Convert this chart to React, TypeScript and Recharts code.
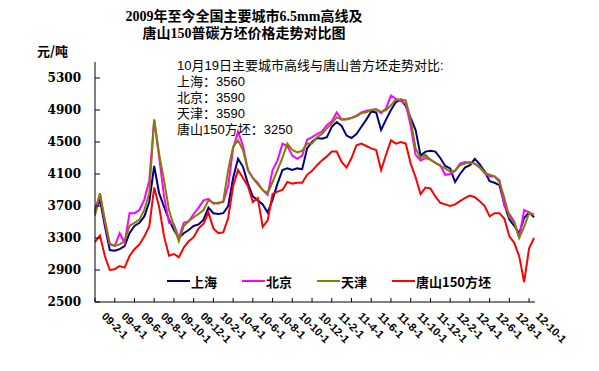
import React from "react";
import { LineChart, Line, XAxis, YAxis } from "recharts";

// months since 2009-02-01, half-month steps
const months: number[] = Array.from({ length: 90 }, (_, i) => i * 0.5);

const xTickLabels = [
  "09-2-1", "09-4-1", "09-6-1", "09-8-1", "09-10-1", "09-12-1",
  "10-2-1", "10-4-1", "10-6-1", "10-8-1", "10-10-1", "10-12-1",
  "11-2-1", "11-4-1", "11-6-1", "11-8-1", "11-10-1", "11-12-1",
  "12-2-1", "12-4-1", "12-6-1", "12-8-1", "12-10-1",
];
const yTicks = [2500, 2900, 3300, 3700, 4100, 4500, 4900, 5300];

const shanghai = [
  3620, 3780, 3450, 3150, 3140, 3160, 3200, 3360, 3450, 3490,
  3570, 3750, 4200, 3860, 3690, 3530, 3400, 3300, 3360, 3400,
  3450, 3470, 3530, 3680, 3610, 3600, 3610, 3700, 4050, 4290,
  4190, 3980, 3820, 3770, 3720, 3620, 3780, 3980, 4150, 4170,
  4150, 4170, 4160, 4420, 4500, 4550, 4540, 4560, 4690, 4750,
  4700, 4580, 4550, 4600, 4690, 4780, 4880, 4870, 4650, 4780,
  4900, 5000, 5030, 4950, 4800, 4650, 4330, 4380, 4390, 4380,
  4300, 4200, 4170, 4000, 4100, 4180, 4210, 4290, 4220, 4130,
  4010, 3990, 3960, 3720, 3530, 3450, 3360, 3550, 3620, 3560,
];
const beijing = [
  3650, 3850, 3500, 3220, 3200, 3360, 3240, 3610, 3610, 3650,
  3780, 4020, 4780, 4310, 3820, 3490, 3470, 3300, 3490, 3510,
  3600, 3680, 3770, 3790, 3730, 3740, 3750, 3950, 4420, 4630,
  4450, 4150, 4050, 3990, 3900, 3840, 4150, 4270, 4480, 4450,
  4330, 4290, 4330, 4530, 4560, 4600, 4630, 4710, 4760, 4870,
  4780, 4780, 4800, 4830, 4870, 4890, 4900, 4910, 4860, 4920,
  5080, 5040, 5010, 4980, 4700, 4340, 4270, 4300, 4280, 4240,
  4210, 4090, 4100, 4140, 4230, 4250, 4240, 4230, 4180, 4110,
  4070, 4070, 4020, 3700, 3600, 3500, 3300, 3650, 3620, 3590,
];
const tianjin = [
  3580, 3860, 3530, 3230, 3200, 3220, 3260, 3450, 3490, 3530,
  3650, 3860, 4780, 4350, 4020, 3650, 3445, 3260, 3450, 3510,
  3560, 3600, 3650, 3770, 3740, 3730, 3760, 4150, 4440, 4520,
  4400, 4150, 4050, 3970, 3900, 3860, 4000, 4150, 4300, 4480,
  4400, 4370, 4390, 4480, 4480, 4560, 4600, 4670, 4730, 4810,
  4780, 4790, 4800, 4820, 4860, 4870, 4900, 4910, 4880, 4900,
  4960, 5030, 5030, 5020, 4780, 4420, 4300, 4340, 4280, 4240,
  4200, 4170, 4130, 4140, 4210, 4230, 4250, 4230, 4190, 4120,
  4090, 4070, 4000, 3800, 3560, 3490, 3300, 3440, 3610, 3590,
];
const tangshan = [
  3250, 3330, 3075, 2900, 2910, 2950, 2930, 3075, 3160, 3220,
  3320, 3445, 3930, 3690, 3320, 3080, 3100, 3060, 3180, 3260,
  3310, 3420, 3480, 3620, 3420, 3360, 3370, 3550, 3950, 4150,
  4050, 3950, 3750, 3800, 3440, 3520, 3850, 3880, 3900, 4000,
  3980, 3990, 3990, 4090, 4140, 4210, 4270, 4320, 4380, 4380,
  4250, 4180, 4300, 4460, 4480, 4450, 4420, 4400, 4150, 4340,
  4520, 4480, 4500, 4480, 4230, 4060, 3850, 3930, 3920, 3820,
  3740, 3720, 3700, 3720, 3760, 3800, 3830, 3810, 3760, 3700,
  3570, 3610, 3610, 3540, 3320, 3240, 3070, 2750, 3170, 3300,
];

const series = [
  { key: "sh", name: "上海", color: "#000080", values: shanghai },
  { key: "bj", name: "北京", color: "#FF00FF", values: beijing },
  { key: "tj", name: "天津", color: "#808000", values: tianjin },
  { key: "ts", name: "唐山150方坯", color: "#FF0000", values: tangshan },
];

const noteLines = [
  "10月19日主要城市高线与唐山普方坯走势对比:",
  "上海：3560",
  "北京：3590",
  "天津：3590",
  "唐山150方坯：3250",
];

const data = months.map((m, i) => {
  const row: { [k: string]: number } = { m };
  series.forEach((s) => (row[s.key] = s.values[i]));
  return row;
});

const xTicks = xTickLabels.map((_, i) => i * 2);

const YTick = (props: any) => {
  const { x, y, payload } = props;
  return (
    <g>
      <line x1={x + 14} x2={x + 19} y1={y} y2={y} stroke="#000" />
      <text
        x={x}
        y={y}
        dy={4}
        textAnchor="end"
        fontFamily="'DejaVu Serif', serif"
        fontWeight="bold"
        fontSize={12}
        fill="#000"
      >
        {payload.value}
      </text>
    </g>
  );
};

const XTick = (props: any) => {
  const { x, y, payload } = props;
  const label = xTickLabels[Math.round(payload.value / 2)] || "";
  const tx = x + 6;
  const ty = y + 15;
  return (
    <g>
      <line x1={x} x2={x} y1={y} y2={y - 4} stroke="#000" />
      <text
        x={tx}
        y={ty}
        transform={`rotate(45, ${tx}, ${ty})`}
        textAnchor="start"
        fontFamily="'Liberation Sans', Arial, sans-serif"
        fontWeight="bold"
        fontSize={11}
        fill="#000"
      >
        {label}
      </text>
    </g>
  );
};

const cjk = "'Noto Sans CJK SC', sans-serif";
const serifCjk = "'Liberation Serif', 'Noto Sans CJK SC', serif";
const sansCjk = "'Liberation Sans', 'Noto Sans CJK SC', sans-serif";

export default function App() {
  return (
    <div
      style={{
        position: "absolute",
        left: 0,
        top: 0,
        width: 599,
        height: 371,
        background: "#fff",
        overflow: "hidden",
      }}
    >
      <div
        style={{
          position: "absolute",
          left: 0,
          top: 8,
          width: 488,
          textAlign: "center",
          fontFamily: serifCjk,
          fontWeight: "bold",
          fontSize: 14,
          lineHeight: "17px",
          color: "#000",
        }}
      >
        <div>2009年至今全国主要城市6.5mm高线及</div>
        <div>唐山150普碳方坯价格走势对比图</div>
      </div>
      <div
        style={{
          position: "absolute",
          left: 37,
          top: 41,
          fontFamily: cjk,
          fontWeight: "bold",
          fontSize: 13,
          color: "#000",
        }}
      >
        元/吨
      </div>

      <LineChart
        width={599}
        height={371}
        data={data}
        margin={{ top: 62, right: 64, bottom: 0, left: 0 }}
      >
        <XAxis
          dataKey="m"
          type="number"
          domain={[0, 44.6]}
          ticks={xTicks}
          interval={0}
          height={69}
          tickSize={0}
          tickMargin={0}
          tick={<XTick />}
          axisLine={{ stroke: "#000" }}
          tickLine={false}
        />
        <YAxis
          type="number"
          domain={[2500, 5500]}
          ticks={yTicks}
          interval={0}
          width={95}
          tickSize={0}
          tickMargin={14}
          tick={<YTick />}
          axisLine={{ stroke: "#000" }}
          tickLine={false}
        />
        {series.map((s) => (
          <Line
            key={s.key}
            dataKey={s.key}
            name={s.name}
            type="linear"
            stroke={s.color}
            strokeWidth={2}
            dot={false}
            isAnimationActive={false}
          />
        ))}
      </LineChart>

      <div
        style={{
          position: "absolute",
          left: 177,
          top: 58,
          fontFamily: sansCjk,
          fontSize: 13,
          lineHeight: "16px",
          color: "#000",
          whiteSpace: "nowrap",
        }}
      >
        {noteLines.map((t, i) => (
          <div key={i} style={{ height: 16 }}>
            {t}
          </div>
        ))}
      </div>

      {series.map((s, i) => {
        const lefts = [167, 242, 317, 392];
        return (
          <div
            key={s.key}
            style={{
              position: "absolute",
              left: lefts[i],
              top: 272,
              height: 18,
              display: "flex",
              alignItems: "center",
              fontFamily: cjk,
              fontWeight: "bold",
              fontSize: 13,
              color: "#000",
              whiteSpace: "nowrap",
            }}
          >
            <span
              style={{
                display: "inline-block",
                width: 23,
                height: 2,
                background: s.color,
                marginRight: 1,
              }}
            />
            {s.name}
          </div>
        );
      })}
    </div>
  );
}
